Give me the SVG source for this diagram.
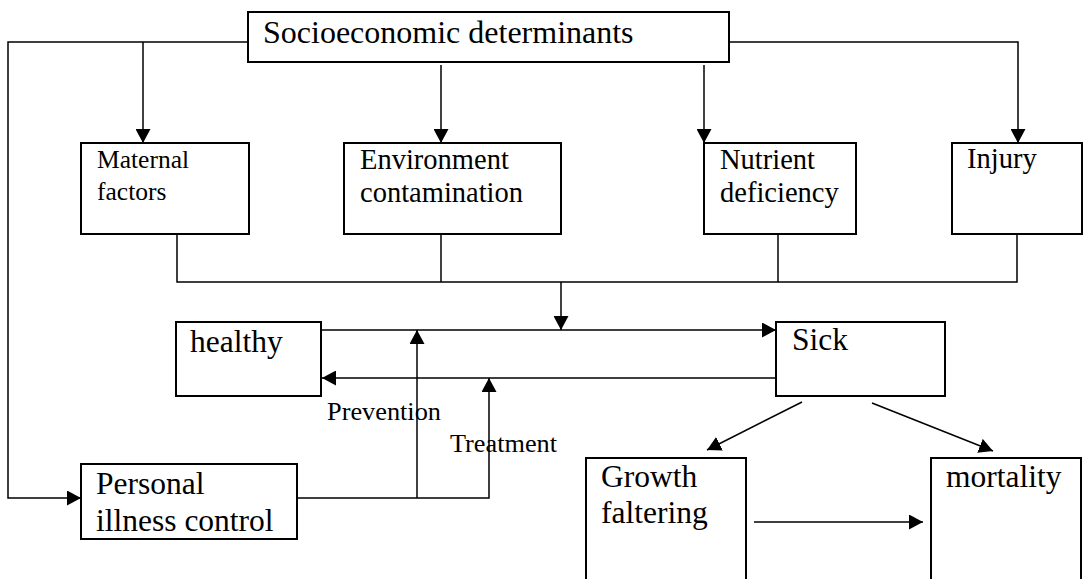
<svg xmlns="http://www.w3.org/2000/svg" width="1084" height="579" viewBox="0 0 1084 579">
<defs>
<marker id="ah" markerUnits="userSpaceOnUse" markerWidth="14" markerHeight="15" refX="14" refY="7.5" orient="auto">
<path d="M0,0 L14,7.5 L0,15 z" fill="#000"/>
</marker>
<style>
.box{fill:#fff;stroke:#000;stroke-width:2}
.ln{fill:none;stroke:#000;stroke-width:1.5}
.ar{fill:none;stroke:#000;stroke-width:1.5;marker-end:url(#ah)}
text{font-family:"Liberation Serif","Times New Roman",serif;fill:#000}
.t32{font-size:32px}
.t31{font-size:31.5px}
.t28{font-size:28.5px}
.t25{font-size:25.5px}
.t24{font-size:24.5px}
</style>
</defs>
<rect width="1084" height="579" fill="#fff"/>
<g id="connectors">
<polyline class="ar" points="248,42 8,42 8,498 81,498"/>
<line class="ar" x1="143" y1="42" x2="143" y2="143"/>
<line class="ar" x1="441" y1="65" x2="441" y2="143"/>
<line class="ar" x1="704" y1="65" x2="704" y2="143"/>
<polyline class="ar" points="729,42 1018,42 1018,143"/>
<polyline class="ln" points="177,234 177,282 1017,282 1017,234"/>
<line class="ln" x1="441" y1="234" x2="441" y2="282"/>
<line class="ln" x1="778" y1="234" x2="778" y2="282"/>
<line class="ar" x1="561" y1="282" x2="561" y2="330"/>
<line class="ar" x1="321" y1="330" x2="776" y2="330"/>
<line class="ar" x1="776" y1="378" x2="322" y2="378"/>
<polyline class="ar" points="297,498 489,498 489,378"/>
<line class="ar" x1="417" y1="498" x2="417" y2="330"/>
<line class="ar" x1="802" y1="402" x2="707" y2="450"/>
<line class="ar" x1="872" y1="403" x2="993" y2="451"/>
<line class="ar" x1="754" y1="522" x2="923" y2="522"/>
</g>
<g id="socioeconomic">
<rect class="box" x="248" y="12" width="481" height="50"/>
<text class="t32" x="263" y="43">Socioeconomic determinants</text>
</g>
<g id="maternal">
<rect class="box" x="81" y="143" width="168" height="91"/>
<text class="t25" x="97" y="168">Maternal</text>
<text class="t25" x="97" y="200">factors</text>
</g>
<g id="environment">
<rect class="box" x="344" y="143" width="217" height="91"/>
<text class="t28" x="360" y="169">Environment</text>
<text class="t28" x="360" y="202">contamination</text>
</g>
<g id="nutrient">
<rect class="box" x="704" y="143" width="152" height="91"/>
<text class="t28" x="720" y="169">Nutrient</text>
<text class="t28" x="720" y="202">deficiency</text>
</g>
<g id="injury">
<rect class="box" x="952" y="143" width="130" height="91"/>
<text class="t28" x="967" y="168">Injury</text>
</g>
<g id="healthy">
<rect class="box" x="176" y="322" width="145" height="74"/>
<text class="t31" x="190" y="352">healthy</text>
</g>
<g id="sick">
<rect class="box" x="776" y="322" width="169" height="74"/>
<text class="t31" x="792" y="350">Sick</text>
</g>
<g id="labels">
<text class="t24" x="327" y="420" textLength="114" lengthAdjust="spacingAndGlyphs">Prevention</text>
<text class="t24" x="450" y="452" textLength="107" lengthAdjust="spacingAndGlyphs">Treatment</text>
</g>
<g id="personal">
<rect class="box" x="81" y="464" width="216" height="75"/>
<text class="t31" x="96" y="494">Personal</text>
<text class="t31" x="96" y="531">illness control</text>
</g>
<g id="growth">
<rect class="box" x="586" y="458" width="160" height="140"/>
<text class="t31" x="601" y="487">Growth</text>
<text class="t31" x="601" y="523">faltering</text>
</g>
<g id="mortality">
<rect class="box" x="931" y="458" width="150" height="140"/>
<text class="t31" x="946" y="487">mortality</text>
</g>
</svg>
